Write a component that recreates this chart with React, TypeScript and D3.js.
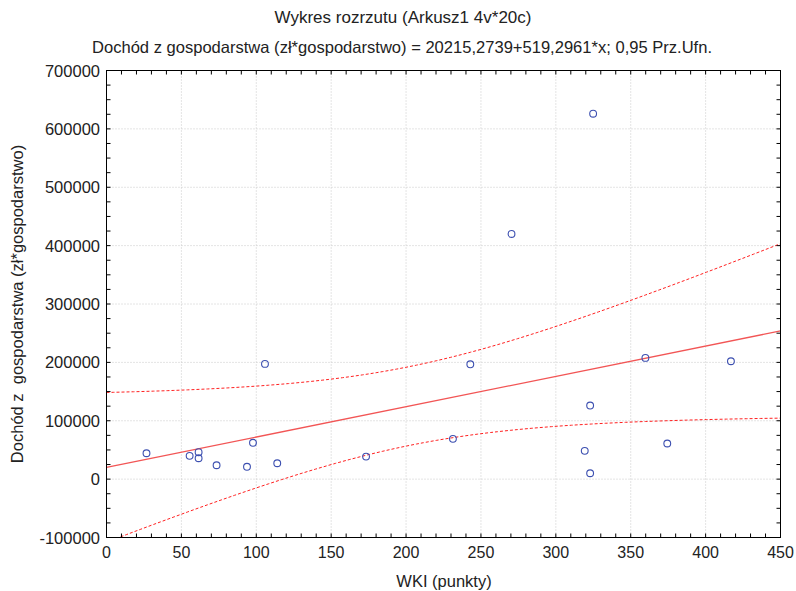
import React from "react";
import * as d3 from "d3";

const wki: number[] = [26.7, 55.5, 61.5, 61.5, 73.5, 93.8, 97.8, 105.8, 114, 173.3, 231.3, 242.9, 270.4, 319.3, 322.9, 322.9, 324.9, 359.8, 374.4, 416.9];
const dochod: number[] = [44300, 39900, 46100, 35800, 23800, 21100, 62200, 197400, 27200, 38600, 69000, 196700, 420000, 48400, 126000, 10100, 626000, 207700, 61000, 201900];
const intercept = 20215.2739;
const slope = 519.2961;
const tCrit = 2.1009;
const xTicks: number[] = [0, 50, 100, 150, 200, 250, 300, 350, 400, 450];
const yTicks: number[] = [-100000, 0, 100000, 200000, 300000, 400000, 500000, 600000, 700000];

const W = 796, H = 591;
const L = 106.5, R = 780.5, T = 70.5, B = 537.5;
const FONT = "'Liberation Sans', Arial, sans-serif";

export default function App() {
  const x = d3.scaleLinear().domain([0, 450]).range([L, R]);
  const y = d3.scaleLinear().domain([-100000, 700000]).range([B, T]);

  const n = wki.length;
  const xbar = d3.mean(wki) as number;
  const sxx = d3.sum(wki, (v) => (v - xbar) ** 2);
  const sse = d3.sum(wki.map((v, i) => (dochod[i] - (intercept + slope * v)) ** 2));
  const s = Math.sqrt(sse / (n - 2));
  const grid = d3.range(0, 451, 4.5);
  const hw = (v: number) => tCrit * s * Math.sqrt(1 / n + (v - xbar) ** 2 / sxx);
  const line = d3.line<[number, number]>().x((d) => x(d[0])).y((d) => y(d[1]));
  const upper = line(grid.map((v) => [v, intercept + slope * v + hw(v)]));
  const lower = line(grid.map((v) => [v, intercept + slope * v - hw(v)]));
  const fit = line([[0, intercept], [450, intercept + slope * 450]]);

  const xMinor = d3.range(0, 451, 10);
  const yMinor = d3.range(-100000, 700001, 25000);

  return (
    <svg width={W} height={H} style={{ position: "absolute", left: 0, top: 0, background: "#fff" }} fontFamily={FONT}>
      <defs>
        <clipPath id="plot">
          <rect x={L} y={T} width={R - L} height={B - T} />
        </clipPath>
      </defs>
      <rect x={0} y={0} width={W} height={H} fill="#fff" />
      <text x={403} y={23} textAnchor="middle" fontSize={16.5} fill="#222" textLength={257} lengthAdjust="spacingAndGlyphs">Wykres rozrzutu (Arkusz1 4v*20c)</text>
      <text x={402} y={53} textAnchor="middle" fontSize={16.5} fill="#222" textLength={620} lengthAdjust="spacingAndGlyphs">Dochód z gospodarstwa (zł*gospodarstwo) = 20215,2739+519,2961*x; 0,95 Prz.Ufn.</text>

      {xTicks.slice(1, -1).map((t) => (
        <line key={"gx" + t} x1={x(t)} x2={x(t)} y1={T} y2={B} stroke="#c8c8c8" strokeDasharray="1,2" />
      ))}
      {yTicks.slice(1, -1).map((t) => (
        <line key={"gy" + t} x1={L} x2={R} y1={y(t)} y2={y(t)} stroke="#c8c8c8" strokeDasharray="1,2" />
      ))}

      <g clipPath="url(#plot)">
        <path d={upper || ""} fill="none" stroke="#ff2020" strokeWidth={1} strokeDasharray="3,2" />
        <path d={lower || ""} fill="none" stroke="#ff2020" strokeWidth={1} strokeDasharray="3,2" />
        <path d={fit || ""} fill="none" stroke="#f25555" strokeWidth={1.3} />
      </g>

      {wki.map((v, i) => (
        <circle key={"p" + i} cx={x(v)} cy={y(dochod[i])} r={3.4} fill="none" stroke="#3c4fb0" strokeWidth={1.1} />
      ))}

      <rect x={L} y={T} width={R - L} height={B - T} fill="none" stroke="#000" strokeWidth={1} />
      {xMinor.map((t) => (
        <g key={"xt" + t}>
          <line x1={x(t)} x2={x(t)} y1={B} y2={B - 4} stroke="#000" />
          <line x1={x(t)} x2={x(t)} y1={T} y2={T + 4} stroke="#000" />
        </g>
      ))}
      {yMinor.map((t) => (
        <g key={"yt" + t}>
          <line x1={L} x2={L + 4} y1={y(t)} y2={y(t)} stroke="#000" />
          <line x1={R} x2={R - 4} y1={y(t)} y2={y(t)} stroke="#000" />
        </g>
      ))}

      {xTicks.map((t) => (
        <text key={"xl" + t} x={x(t)} y={558} textAnchor="middle" fontSize={16} fill="#222">{t}</text>
      ))}
      {yTicks.map((t) => (
        <text key={"yl" + t} x={100} y={y(t) + 6} textAnchor="end" fontSize={16.5} fill="#222">{t}</text>
      ))}

      <text x={444} y={587} textAnchor="middle" fontSize={16.5} fill="#222">WKI (punkty)</text>
      <text transform={`translate(23,${(T + B) / 2}) rotate(-90)`} textAnchor="middle" fontSize={16.5} fill="#222" style={{ whiteSpace: "pre" }}>{"Dochód z  gospodarstwa (zł*gospodarstwo)"}</text>
    </svg>
  );
}
